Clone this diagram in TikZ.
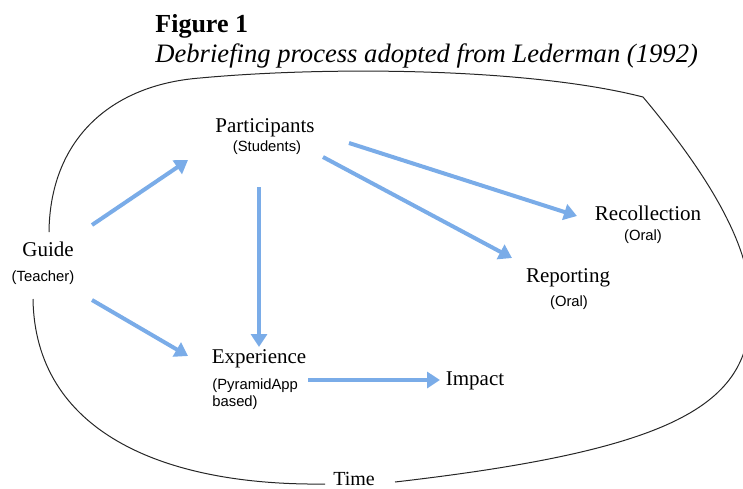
\documentclass[tikz,border=0pt]{standalone}
\usepackage{fontspec}
\setmainfont{Liberation Serif}
\newfontfamily\helv{Liberation Sans}
\usetikzlibrary{arrows.meta}
\definecolor{flowblue}{RGB}{122,172,232}

\begin{document}
\begin{tikzpicture}[x=0.5pt,y=-0.5pt,
    lbl/.style={inner sep=0pt,anchor=base,font=\fontsize{10.5}{12}\selectfont},
    sub/.style={inner sep=0pt,anchor=base,font=\helv\fontsize{7.4}{8.5}\selectfont},
    flow/.style={draw=flowblue,line width=2pt,-{Triangle[length=6.5pt,width=8pt]}},
    rim/.style={draw=black!85,line width=0.5pt}]
      \useasboundingbox (0,0) rectangle (743,488);
      \node[inner sep=0pt,anchor=base west,font=\bfseries\fontsize{13}{15}\selectfont](fig) at (155,32){Figure 1};
      \node[inner sep=0pt,anchor=base west,font=\itshape\fontsize{13.3}{15}\selectfont](caption) at (155,62){Debriefing process adopted from Lederman (1992)};

      \draw[rim] (49,232) .. controls (50,140) and (110,85) .. (200,78)
        .. controls (330,66) and (530,68) .. (643,97)
        .. controls (700,165) and (750,240) .. (750,300)
        .. controls (755,400) and (690,448) .. (395,482);
      \draw[rim] (325,484) .. controls (160,486) and (35,430) .. (33,299);

      \node[lbl](guide) at (48,256){Guide};
      \node[sub](teacher) at (43,281){(Teacher)};
      \node[lbl](participants) at (265,132){Participants};
      \node[sub](students) at (267,151){(Students)};
      \node[lbl](recollection) at (648,220){Recollection};
      \node[sub](recoral) at (643,240){(Oral)};
      \node[lbl](reporting) at (568,282){Reporting};
      \node[sub](reporal) at (569,306){(Oral)};
      \node[lbl](experience) at (259,363){Experience};
      \node[sub,anchor=north west,align=left](pyramid) at (212,378){(PyramidApp\\based)};
      \node[lbl](impact) at (475,385){Impact};
      \node[lbl,font=\fontsize{10}{12}\selectfont](time) at (354,485){Time};

      \draw[flow] ([shift={(44,-31)}]guide.base) -- ([shift={(-79,9)}]students.base);
      \draw[flow] ([shift={(49,19)}]teacher.base) -- ([shift={(-71,-7)}]experience.base);
      \draw[flow] ([shift={(-8,36)}]students.base) -- ([shift={(0,-16)}]experience.base);
      \draw[flow] ([shift={(82,-8)}]students.base) -- ([shift={(-71,-4)}]recollection.base);
      \draw[flow] ([shift={(56,6)}]students.base) -- ([shift={(-56,-24)}]reporting.base);
      \draw[flow] ([shift={(96,2)}]pyramid.north west) -- ([shift={(-35,-5)}]impact.base);
    \end{tikzpicture}
\end{document}
